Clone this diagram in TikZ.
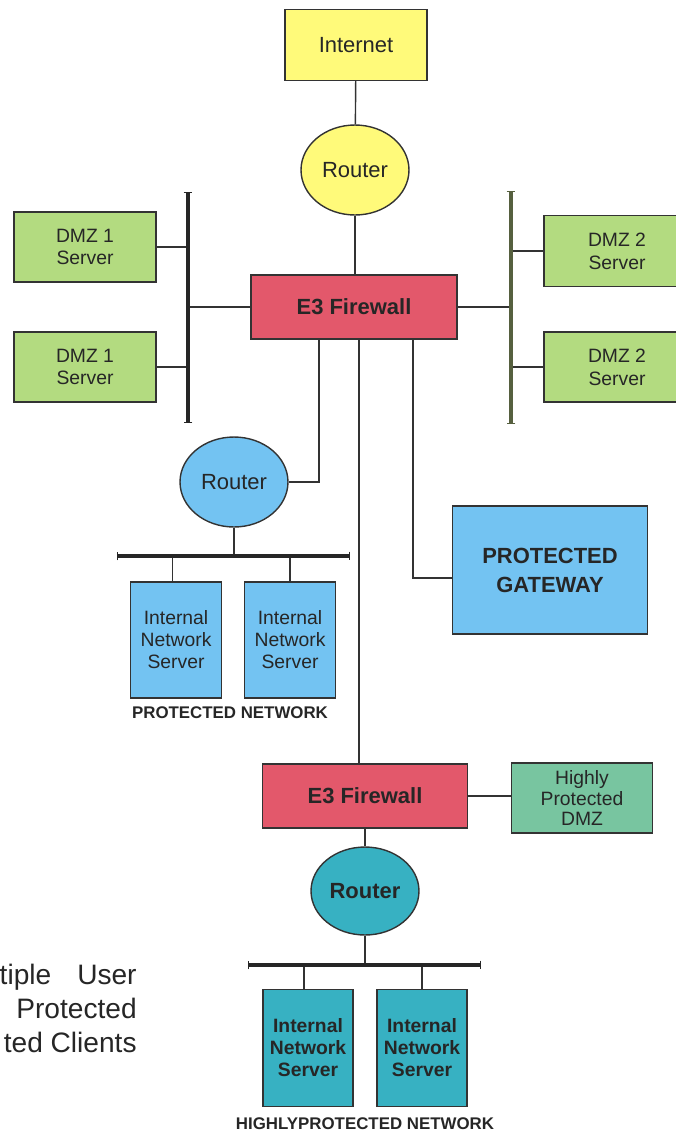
\documentclass[tikz,border=0pt]{standalone}
\usepackage{fontspec}
\setmainfont{Liberation Sans}
\definecolor{NetYellow}{HTML}{FFFA7A}
\definecolor{FwRed}{HTML}{E3586B}
\definecolor{DmzGreen}{HTML}{B3DB80}
\definecolor{ProtBlue}{HTML}{73C3F2}
\definecolor{HighTeal}{HTML}{37B1C2}
\definecolor{HighGreen}{HTML}{78C5A0}
\definecolor{BusOlive}{HTML}{56603F}
\usetikzlibrary{arrows.meta,shapes.geometric}

\begin{document}
\begin{tikzpicture}[
  x=0.02cm, y=-0.02cm,
  every node/.style={text=black!85},
  box/.style={draw=black!80,line width=0.8pt,align=center,inner sep=2pt},
  netbox/.style={box,fill=NetYellow,minimum width=2.84cm,minimum height=1.42cm,
    font=\fontsize{12.5}{15}\selectfont},
  router/.style={ellipse,draw=black!80,line width=0.8pt,minimum width=2.16cm,
    minimum height=1.8cm,inner sep=0pt,font=\fontsize{12.5}{15}\selectfont},
  firewall/.style={box,fill=FwRed,minimum width=4.12cm,minimum height=1.28cm,
    font=\bfseries\fontsize{12.5}{15}\selectfont},
  dmzbox/.style={box,fill=DmzGreen,minimum width=2.84cm,minimum height=1.4cm,
    font=\fontsize{11}{13}\selectfont},
  srvbox/.style={box,minimum width=1.82cm,minimum height=2.32cm,
    font=\fontsize{11}{12.5}\selectfont},
  gatebox/.style={box,fill=ProtBlue,minimum width=3.9cm,minimum height=2.56cm,
    font=\bfseries\fontsize{12.5}{16.5}\selectfont},
  netlabel/.style={inner sep=0pt,font=\bfseries\fontsize{9.6}{11}\selectfont},
  caption/.style={inner sep=0pt,align=right,font=\fontsize{16}{19.3}\selectfont},
  link/.style={draw=black!80,line width=0.8pt},
  bus/.style={line width=2.2pt,{Bar[width=5pt,line width=0.8pt]}-{Bar[width=5pt,line width=0.8pt]}}
]
  \useasboundingbox (0,0) rectangle (676,1133);

  % top: internet, router, firewall
  \node[netbox] (internet) at (356,45) {Internet};
  \node[router,fill=NetYellow] (routerA) at (355,170) {Router};
  \node[firewall] (fwA) at (354,307) {E3 Firewall};

  % DMZ 1 and DMZ 2
  \node[dmzbox] (dmzA) at (85,247) {DMZ 1\\Server};
  \node[dmzbox] (dmzB) at (85,367) {DMZ 1\\Server};
  \node[dmzbox,minimum width=2.92cm,minimum height=1.42cm] (dmzC) at (617,251) {DMZ 2\\Server};
  \node[dmzbox,minimum width=2.92cm] (dmzD) at (617,367) {DMZ 2\\Server};
  \coordinate (busA1) at (188,192);
  \coordinate (busA2) at (188,423);
  \coordinate (busB1) at (511,191);
  \coordinate (busB2) at (511,424);

  % protected network
  \node[router,fill=ProtBlue] (routerB) at (234,482) {Router};
  \coordinate (busC1) at (117,556);
  \coordinate (busC2) at (350,556);
  \node[srvbox,fill=ProtBlue] (srvA) at (176,640) {Internal\\Network\\Server};
  \node[srvbox,fill=ProtBlue] (srvB) at (290,640) {Internal\\Network\\Server};
  \node[netlabel] (protnet) at (230,713) {PROTECTED NETWORK};
  \node[gatebox] (gateway) at (550,570) {PROTECTED\\GATEWAY};

  % highly protected network
  \node[firewall,minimum width=4.1cm] (fwB) at (365,796) {E3 Firewall};
  \node[dmzbox,fill=HighGreen,minimum width=2.82cm,
    font=\fontsize{11}{11.5}\selectfont] (hpdmz) at (582,798) {Highly\\Protected\\DMZ};
  \node[router,fill=HighTeal,minimum height=1.76cm,
    font=\bfseries\fontsize{12.5}{15}\selectfont] (routerC) at (365,891) {Router};
  \coordinate (busD1) at (248,965);
  \coordinate (busD2) at (481,965);
  \node[srvbox,fill=HighTeal,minimum width=1.8cm,minimum height=2.34cm,
    font=\bfseries\fontsize{11}{12.5}\selectfont] (srvC) at (308,1048) {Internal\\Network\\Server};
  \node[srvbox,fill=HighTeal,minimum width=1.8cm,minimum height=2.34cm,
    font=\bfseries\fontsize{11}{12.5}\selectfont] (srvD) at (422,1048) {Internal\\Network\\Server};
  \node[netlabel] (highnet) at (365,1124) {HIGHLYPROTECTED NETWORK};

  \node[caption,anchor=north east] (clients) at (137,964)
    {tiple\hspace{0.52cm}User\\Protected\\ted Clients};

  % connectors
  \draw[link] (internet) -- (routerA);
  \draw[link] (routerA) -- (routerA |- fwA.north);
  \draw[link] (dmzA) -- (dmzA -| busA1);
  \draw[link] (dmzB) -- (dmzB -| busA1);
  \draw[link] (fwA) -- (fwA -| busA1);
  \draw[link] (fwA) -- (fwA -| busB1);
  \draw[link] (dmzC) -- (dmzC -| busB1);
  \draw[link] (dmzD) -- (dmzD -| busB1);
  \draw[link] ([xshift=-0.7cm]fwA.south) |- (routerB.east);
  \draw[link] (routerB) -- (routerB |- busC1);
  \draw[link] ([xshift=-0.07cm]srvA.north) -- ([xshift=-0.07cm]srvA.north |- busC1);
  \draw[link] (srvB) -- (srvB |- busC1);
  \draw[link] ([xshift=1.18cm]fwA.south) |- ([yshift=-0.16cm]gateway.west);
  \draw[link] ([xshift=0.1cm]fwA.south) -- ([xshift=0.1cm]fwA.south |- fwB.north);
  \draw[link] (fwB) -- (fwB -| hpdmz.west);
  \draw[link] (fwB) -- (routerC);
  \draw[link] (routerC) -- (routerC |- busD1);
  \draw[link] ([xshift=-0.08cm]srvC.north) -- ([xshift=-0.08cm]srvC.north |- busD1);
  \draw[link] (srvD) -- (srvD |- busD1);

  % buses
  \draw[bus,black!85] (busA1) -- (busA2);
  \draw[bus,BusOlive,line width=2.6pt] (busB1) -- (busB2);
  \draw[bus,black!85] (busC1) -- (busC2);
  \draw[bus,black!85] (busD1) -- (busD2);
\end{tikzpicture}
\end{document}
